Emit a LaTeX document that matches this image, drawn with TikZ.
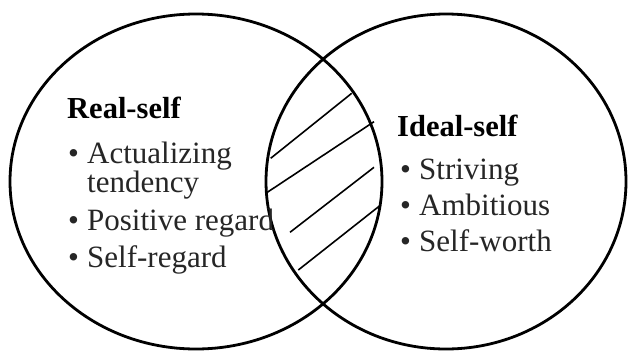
\documentclass[tikz,border=0pt]{standalone}
\usepackage{fontspec}
\setmainfont{Liberation Serif}
\begin{document}
\begin{tikzpicture}[x=1pt,y=-1pt,
  ring/.style={line width=2.8pt,black},
  hatch/.style={line width=1.6pt,black},
  head/.style={anchor=base west,inner sep=0pt,font=\fontsize{30.5}{32}\selectfont\bfseries},
  item/.style={anchor=base west,inner sep=0pt,font=\fontsize{31}{32}\selectfont,text=black!85}]
\useasboundingbox (0,0) rectangle (628,351);
\fill[white] (0,0) rectangle (628,351);
\draw[ring] (196,181.5) ellipse [x radius=186, y radius=167.5];
\draw[ring] (446,181.5) ellipse [x radius=180, y radius=167.5];
% hatch
\draw[hatch] (270.7,158.3) -- (351.7,93.3);
\draw[hatch] (266.7,192.7) -- (374,121.7);
\draw[hatch] (290,232.3) -- (374,167.3);
\draw[hatch] (298.3,270) -- (380.7,205);
% left text
\node[head] (rs) at (67,118) {Real-self};
\node[item] (l1) at (68,163) {\makebox[19pt][l]{\textbullet}Actualizing};
\node[item] (l2) at (87,192) {tendency};
\node[item] (l3) at (68,230) {\makebox[19pt][l]{\textbullet}Positive regard};
\node[item] (l4) at (68,267) {\makebox[19pt][l]{\textbullet}Self-regard};
% right text
\node[head] (is) at (397,136) {Ideal-self};
\node[item] (r1) at (400,179) {\makebox[19pt][l]{\textbullet}Striving};
\node[item] (r2) at (400,215) {\makebox[19pt][l]{\textbullet}Ambitious};
\node[item] (r3) at (400,251) {\makebox[19pt][l]{\textbullet}Self-worth};
\end{tikzpicture}
\end{document}
